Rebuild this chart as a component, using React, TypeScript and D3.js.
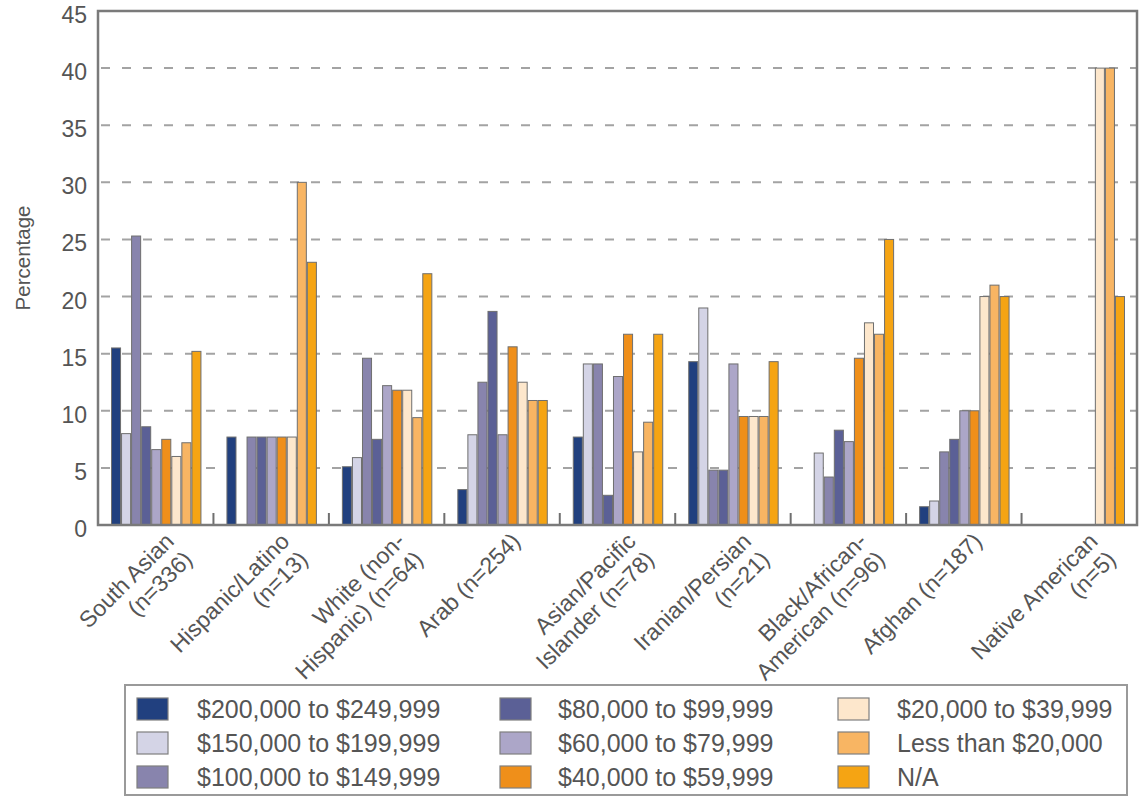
import React from "react";
import * as d3 from "d3";

const groups = [
  "South Asian (n=336)",
  "Hispanic/Latino (n=13)",
  "White (non-Hispanic) (n=64)",
  "Arab (n=254)",
  "Asian/Pacific Islander (n=78)",
  "Iranian/Persian (n=21)",
  "Black/African-American (n=96)",
  "Afghan (n=187)",
  "Native American (n=5)",
];

const groupLabelLines = [
  ["South Asian", "(n=336)"],
  ["Hispanic/Latino", "(n=13)"],
  ["White (non-", "Hispanic) (n=64)"],
  ["Arab (n=254)"],
  ["Asian/Pacific", "Islander (n=78)"],
  ["Iranian/Persian", "(n=21)"],
  ["Black/African-", "American (n=96)"],
  ["Afghan (n=187)"],
  ["Native American", "(n=5)"],
];

const seriesNames = [
  "$200,000 to $249,999",
  "$150,000 to $199,999",
  "$100,000 to $149,999",
  "$80,000 to $99,999",
  "$60,000 to $79,999",
  "$40,000 to $59,999",
  "$20,000 to $39,999",
  "Less than $20,000",
  "N/A",
];

const seriesColors = [
  "#21407f",
  "#d4d4e6",
  "#8884ad",
  "#5b6096",
  "#aca6c8",
  "#ef8f1a",
  "#fde7cc",
  "#f8b563",
  "#f5a413",
];

// values[group][series]
const southAsian = [15.5, 8.0, 25.3, 8.6, 6.6, 7.5, 6.0, 7.2, 15.2];
const hispanic = [7.7, 0, 7.7, 7.7, 7.7, 7.7, 7.7, 30.0, 23.0];
const white = [5.1, 5.9, 14.6, 7.5, 12.2, 11.8, 11.8, 9.4, 22.0];
const arab = [3.1, 7.9, 12.5, 18.7, 7.9, 15.6, 12.5, 10.9, 10.9];
const asianPacific = [7.7, 14.1, 14.1, 2.6, 13.0, 16.7, 6.4, 9.0, 16.7];
const iranian = [14.3, 19.0, 4.8, 4.8, 14.1, 9.5, 9.5, 9.5, 14.3];
const black = [0, 6.3, 4.2, 8.3, 7.3, 14.6, 17.7, 16.7, 25.0];
const afghan = [1.6, 2.1, 6.4, 7.5, 10.0, 10.0, 20.0, 21.0, 20.0];
const nativeAmerican = [0, 0, 0, 0, 0, 0, 40.0, 40.0, 20.0];

const values = [southAsian, hispanic, white, arab, asianPacific, iranian, black, afghan, nativeAmerican];

const yTicks = [0, 5, 10, 15, 20, 25, 30, 35, 40, 45];

const W = 1141;
const H = 796;
const LEFT = 98;
const RIGHT = 1137;
const TOP = 11;
const BOTTOM = 525;

export default function App() {
  const x0 = d3.scaleBand<string>().domain(groups).range([LEFT, RIGHT]).padding(0);
  const step = x0.bandwidth();
  const x1 = d3.scaleBand<string>().domain(seriesNames).range([13, step - 12]).padding(0);
  const y = d3.scaleLinear().domain([0, 45]).range([BOTTOM, TOP]);

  const font = "'Liberation Sans', Arial, Helvetica, sans-serif";
  const textColor = "#555";

  const legendCols = [
    { sx: 137, tx: 197 },
    { sx: 500, tx: 558 },
    { sx: 838, tx: 897 },
  ];
  const legendRows = [709, 743, 777];

  return (
    <svg width={W} height={H} style={{ position: "absolute", left: 0, top: 0 }} fontFamily={font}>
      <rect x={0} y={0} width={W} height={H} fill="#fff" />
      {/* gridlines */}
      {yTicks.filter((t) => t > 0 && t < 45).map((t) => (
        <line
          key={"g" + t}
          x1={LEFT}
          x2={RIGHT}
          y1={y(t)}
          y2={y(t)}
          stroke="#a3a3a3"
          strokeWidth={2}
          strokeDasharray="9 12"
          strokeDashoffset={-3}
        />
      ))}
      {/* bars */}
      {groups.map((g, gi) => (
        <g key={g} transform={`translate(${x0(g)},0)`}>
          {seriesNames.map((s, si) => {
            const v = values[gi][si];
            if (!v) return null;
            return (
              <rect
                key={s}
                x={x1(s)! + 0.5}
                y={y(v)}
                width={x1.bandwidth() - 1}
                height={y(0) - y(v)}
                fill={seriesColors[si]}
                stroke="#6f6f6f"
                strokeWidth={1}
              />
            );
          })}
        </g>
      ))}
      {/* group separator ticks */}
      {groups.slice(1).map((g) => (
        <line key={"t" + g} x1={x0(g)} x2={x0(g)} y1={BOTTOM - 12} y2={BOTTOM} stroke="#6f6f6f" strokeWidth={2} />
      ))}
      {/* frame */}
      <rect x={LEFT} y={TOP} width={RIGHT - LEFT} height={BOTTOM - TOP} fill="none" stroke="#7a7a7a" strokeWidth={2.5} />
      {/* y tick labels */}
      {yTicks.map((t) => (
        <text key={"yl" + t} x={87} y={y(t) + 4} textAnchor="end" dominantBaseline="central" fontSize={23} fill={textColor}>
          {t}
        </text>
      ))}
      <text
        transform={`translate(22,258) rotate(-90)`}
        textAnchor="middle"
        dominantBaseline="central"
        fontSize={20.5}
        fill={textColor}
      >
        Percentage
      </text>
      {/* x labels */}
      {groups.map((g, gi) => {
        const cx = x0(g)! + step / 2;
        return (
          <text
            key={"xl" + g}
            transform={`translate(${cx + 14},${BOTTOM + 12}) rotate(-45)`}
            textAnchor="end"
            fontSize={23}
            fill={textColor}
          >
            {groupLabelLines[gi].map((line, li) => (
              <tspan key={li} x={0} dy={li === 0 ? "0.35em" : "1.12em"}>
                {line}
              </tspan>
            ))}
          </text>
        );
      })}
      {/* legend */}
      <rect x={125} y={685} width={1127 - 125} height={110} fill="none" stroke="#9a9a9a" strokeWidth={2} />
      {seriesNames.map((s, i) => {
        const col = legendCols[Math.floor(i / 3)];
        const ry = legendRows[i % 3];
        return (
          <g key={"lg" + s}>
            <rect x={col.sx} y={ry - 11} width={31} height={22} fill={seriesColors[i]} stroke="#7f7f7f" strokeWidth={1.2} />
            <text x={col.tx} y={ry} dominantBaseline="central" fontSize={25} fill={textColor}>
              {s}
            </text>
          </g>
        );
      })}
    </svg>
  );
}
